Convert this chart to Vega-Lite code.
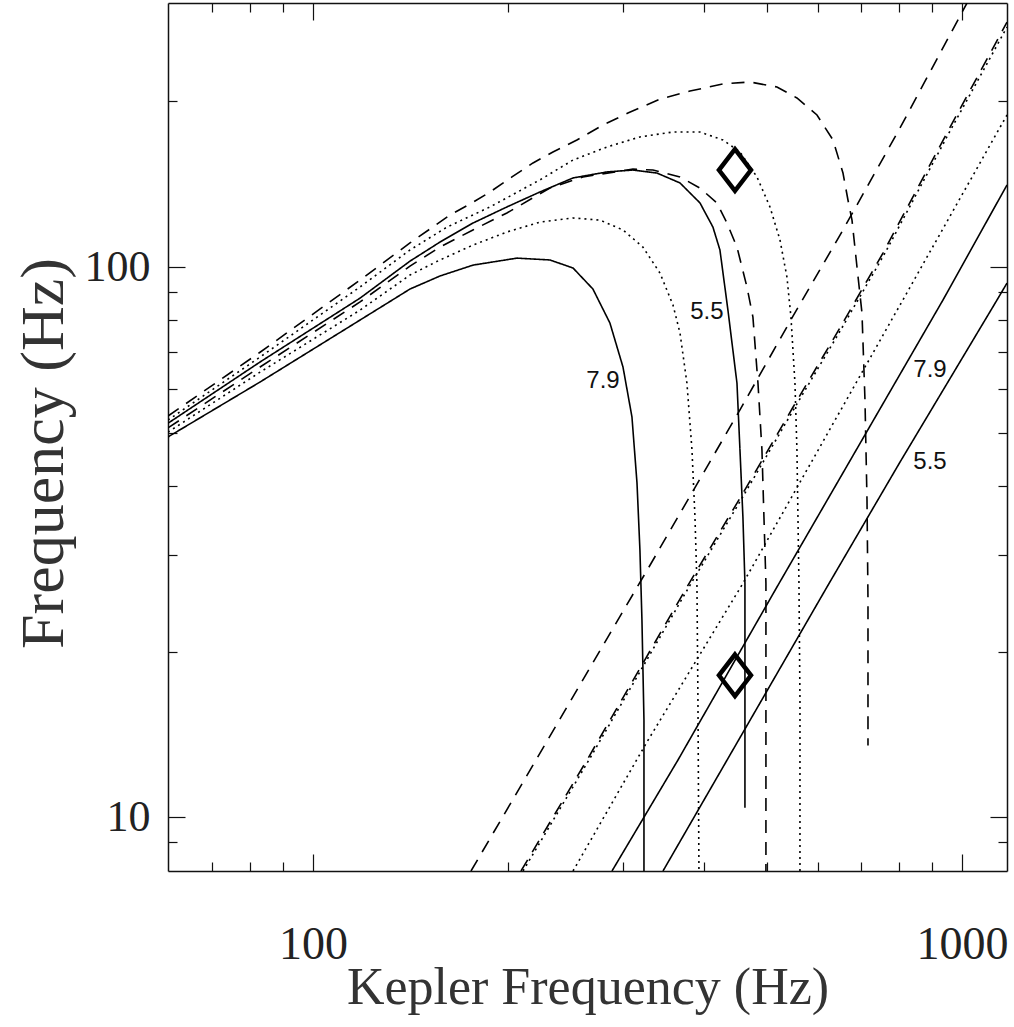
{
  "$schema": "https://vega.github.io/schema/vega-lite/v6.json",
  "width": 839,
  "height": 868,
  "autosize": {"type": "none"},
  "padding": {"left": 168, "top": 3, "right": 7, "bottom": 156},
  "background": "white",
  "config": {
    "view": {"stroke": null},
    "axis": {"grid": false, "domainColor": "#111", "domainWidth": 1.5, "tickColor": "#111", "tickWidth": 1.2, "labelColor": "#222", "titleColor": "#333", "labelFont": "Liberation Serif", "titleFont": "Liberation Serif", "titleFontWeight": "normal", "labelOverlap": false, "labelFlush": false}
  },
  "datasets": {
    "curves": [
      {"s":"S1","d":"solid","i":0,"x":59.8,"y":49.1},
      {"s":"S1","d":"solid","i":1,"x":82.9,"y":61.8},
      {"s":"S1","d":"solid","i":2,"x":118.2,"y":80.1},
      {"s":"S1","d":"solid","i":3,"x":141.1,"y":91.2},
      {"s":"S1","d":"solid","i":4,"x":156.9,"y":96.3},
      {"s":"S1","d":"solid","i":5,"x":176.4,"y":100.8},
      {"s":"S1","d":"solid","i":6,"x":206.2,"y":103.8},
      {"s":"S1","d":"solid","i":7,"x":231.8,"y":103.0},
      {"s":"S1","d":"solid","i":8,"x":251.6,"y":99.6},
      {"s":"S1","d":"solid","i":9,"x":270.0,"y":91.2},
      {"s":"S1","d":"solid","i":10,"x":286.8,"y":79.1},
      {"s":"S1","d":"solid","i":11,"x":300.4,"y":65.8},
      {"s":"S1","d":"solid","i":12,"x":310.1,"y":53.4},
      {"s":"S1","d":"solid","i":13,"x":315.7,"y":40.5},
      {"s":"S1","d":"solid","i":14,"x":319.0,"y":30.6},
      {"s":"S1","d":"solid","i":15,"x":321.3,"y":22.8},
      {"s":"S1","d":"solid","i":16,"x":323.6,"y":15.0},
      {"s":"S1","d":"solid","i":17,"x":323.6,"y":7.98},

      {"s":"S2","d":"solid","i":0,"x":59.8,"y":52.0},
      {"s":"S2","d":"solid","i":1,"x":82.9,"y":67.2},
      {"s":"S2","d":"solid","i":2,"x":118.2,"y":87.8},
      {"s":"S2","d":"solid","i":3,"x":141.1,"y":102.5},
      {"s":"S2","d":"solid","i":4,"x":156.9,"y":111.0},
      {"s":"S2","d":"solid","i":5,"x":176.4,"y":120.2},
      {"s":"S2","d":"solid","i":6,"x":199.0,"y":128.6},
      {"s":"S2","d":"solid","i":7,"x":223.7,"y":136.9},
      {"s":"S2","d":"solid","i":8,"x":251.6,"y":145.2},
      {"s":"S2","d":"solid","i":9,"x":283.8,"y":148.9},
      {"s":"S2","d":"solid","i":10,"x":311.2,"y":150.1},
      {"s":"S2","d":"solid","i":11,"x":338.9,"y":148.2},
      {"s":"S2","d":"solid","i":12,"x":367.7,"y":142.2},
      {"s":"S2","d":"solid","i":13,"x":394.7,"y":130.8},
      {"s":"S2","d":"solid","i":14,"x":413.3,"y":118.2},
      {"s":"S2","d":"solid","i":15,"x":423.7,"y":107.4},
      {"s":"S2","d":"solid","i":16,"x":435.9,"y":83.5},
      {"s":"S2","d":"solid","i":17,"x":450.1,"y":61.5},
      {"s":"S2","d":"solid","i":18,"x":454.9,"y":46.5},
      {"s":"S2","d":"solid","i":19,"x":459.7,"y":35.1},
      {"s":"S2","d":"solid","i":20,"x":463.0,"y":26.6},
      {"s":"S2","d":"solid","i":21,"x":463.0,"y":16.3},
      {"s":"S2","d":"solid","i":22,"x":463.0,"y":10.4},

      {"s":"D1","d":"dashed","i":0,"x":59.8,"y":51.0},
      {"s":"D1","d":"dashed","i":1,"x":82.9,"y":65.8},
      {"s":"D1","d":"dashed","i":2,"x":118.2,"y":86.4},
      {"s":"D1","d":"dashed","i":3,"x":141.1,"y":100.4},
      {"s":"D1","d":"dashed","i":4,"x":156.9,"y":108.7},
      {"s":"D1","d":"dashed","i":5,"x":176.4,"y":116.8},
      {"s":"D1","d":"dashed","i":6,"x":199.0,"y":125.4},
      {"s":"D1","d":"dashed","i":7,"x":231.8,"y":139.2},
      {"s":"D1","d":"dashed","i":8,"x":260.6,"y":145.8},
      {"s":"D1","d":"dashed","i":9,"x":311.2,"y":150.7},
      {"s":"D1","d":"dashed","i":10,"x":334.1,"y":150.1},
      {"s":"D1","d":"dashed","i":11,"x":367.7,"y":145.8},
      {"s":"D1","d":"dashed","i":12,"x":394.7,"y":139.2},
      {"s":"D1","d":"dashed","i":13,"x":419.2,"y":130.8},
      {"s":"D1","d":"dashed","i":14,"x":434.4,"y":120.2},
      {"s":"D1","d":"dashed","i":15,"x":450.1,"y":108.7},
      {"s":"D1","d":"dashed","i":16,"x":466.3,"y":92.0},
      {"s":"D1","d":"dashed","i":17,"x":476.3,"y":81.1},
      {"s":"D1","d":"dashed","i":18,"x":484.9,"y":61.5},
      {"s":"D1","d":"dashed","i":19,"x":491.8,"y":46.5},
      {"s":"D1","d":"dashed","i":20,"x":495.3,"y":35.1},
      {"s":"D1","d":"dashed","i":21,"x":498.8,"y":26.6},
      {"s":"D1","d":"dashed","i":22,"x":498.8,"y":16.3},
      {"s":"D1","d":"dashed","i":23,"x":498.8,"y":7.98},

      {"s":"P1","d":"dotted","i":0,"x":59.8,"y":50.1},
      {"s":"P1","d":"dotted","i":1,"x":82.9,"y":64.4},
      {"s":"P1","d":"dotted","i":2,"x":118.2,"y":83.5},
      {"s":"P1","d":"dotted","i":3,"x":141.1,"y":96.7},
      {"s":"P1","d":"dotted","i":4,"x":156.9,"y":103.0},
      {"s":"P1","d":"dotted","i":5,"x":176.4,"y":109.6},
      {"s":"P1","d":"dotted","i":6,"x":199.0,"y":115.8},
      {"s":"P1","d":"dotted","i":7,"x":223.7,"y":120.7},
      {"s":"P1","d":"dotted","i":8,"x":251.6,"y":122.8},
      {"s":"P1","d":"dotted","i":9,"x":276.8,"y":121.7},
      {"s":"P1","d":"dotted","i":10,"x":300.4,"y":116.8},
      {"s":"P1","d":"dotted","i":11,"x":322.4,"y":108.7},
      {"s":"P1","d":"dotted","i":12,"x":342.5,"y":97.5},
      {"s":"P1","d":"dotted","i":13,"x":358.7,"y":85.3},
      {"s":"P1","d":"dotted","i":14,"x":367.7,"y":75.9},
      {"s":"P1","d":"dotted","i":15,"x":376.9,"y":61.5},
      {"s":"P1","d":"dotted","i":16,"x":383.7,"y":46.5},
      {"s":"P1","d":"dotted","i":17,"x":387.8,"y":35.1},
      {"s":"P1","d":"dotted","i":18,"x":390.5,"y":26.6},
      {"s":"P1","d":"dotted","i":19,"x":391.9,"y":16.3},
      {"s":"P1","d":"dotted","i":20,"x":393.3,"y":7.98},

      {"s":"P2","d":"dotted","i":0,"x":59.8,"y":52.7},
      {"s":"P2","d":"dotted","i":1,"x":82.9,"y":68.6},
      {"s":"P2","d":"dotted","i":2,"x":118.2,"y":92.0},
      {"s":"P2","d":"dotted","i":3,"x":141.1,"y":107.4},
      {"s":"P2","d":"dotted","i":4,"x":160.9,"y":118.2},
      {"s":"P2","d":"dotted","i":5,"x":187.4,"y":128.6},
      {"s":"P2","d":"dotted","i":6,"x":223.7,"y":144.0},
      {"s":"P2","d":"dotted","i":7,"x":251.6,"y":156.5},
      {"s":"P2","d":"dotted","i":8,"x":283.8,"y":165.3},
      {"s":"P2","d":"dotted","i":9,"x":319.0,"y":172.4},
      {"s":"P2","d":"dotted","i":10,"x":358.7,"y":176.0},
      {"s":"P2","d":"dotted","i":11,"x":394.7,"y":176.0},
      {"s":"P2","d":"dotted","i":12,"x":428.3,"y":170.2},
      {"s":"P2","d":"dotted","i":13,"x":454.9,"y":161.9},
      {"s":"P2","d":"dotted","i":14,"x":483.2,"y":145.8},
      {"s":"P2","d":"dotted","i":15,"x":506.0,"y":128.6},
      {"s":"P2","d":"dotted","i":16,"x":524.3,"y":112.0},
      {"s":"P2","d":"dotted","i":17,"x":537.4,"y":95.9},
      {"s":"P2","d":"dotted","i":18,"x":545.1,"y":81.1},
      {"s":"P2","d":"dotted","i":19,"x":552.9,"y":61.5},
      {"s":"P2","d":"dotted","i":20,"x":556.8,"y":46.5},
      {"s":"P2","d":"dotted","i":21,"x":560.8,"y":26.6},
      {"s":"P2","d":"dotted","i":22,"x":562.8,"y":16.3},
      {"s":"P2","d":"dotted","i":23,"x":562.8,"y":7.98},

      {"s":"D2","d":"dashed","i":0,"x":59.8,"y":53.6},
      {"s":"D2","d":"dashed","i":1,"x":82.9,"y":70.0},
      {"s":"D2","d":"dashed","i":2,"x":118.2,"y":94.7},
      {"s":"D2","d":"dashed","i":3,"x":141.1,"y":110.6},
      {"s":"D2","d":"dashed","i":4,"x":162.6,"y":124.3},
      {"s":"D2","d":"dashed","i":5,"x":175.8,"y":130.8},
      {"s":"D2","d":"dashed","i":6,"x":187.4,"y":136.9},
      {"s":"D2","d":"dashed","i":7,"x":202.6,"y":145.8},
      {"s":"D2","d":"dashed","i":8,"x":218.3,"y":154.6},
      {"s":"D2","d":"dashed","i":9,"x":234.3,"y":161.9},
      {"s":"D2","d":"dashed","i":10,"x":255.1,"y":170.2},
      {"s":"D2","d":"dashed","i":11,"x":279.8,"y":181.2},
      {"s":"D2","d":"dashed","i":12,"x":305.7,"y":190.5},
      {"s":"D2","d":"dashed","i":13,"x":342.5,"y":202.0},
      {"s":"D2","d":"dashed","i":14,"x":381.0,"y":208.9},
      {"s":"D2","d":"dashed","i":15,"x":428.3,"y":215.2},
      {"s":"D2","d":"dashed","i":16,"x":471.3,"y":217.0},
      {"s":"D2","d":"dashed","i":17,"x":518.7,"y":212.5},
      {"s":"D2","d":"dashed","i":18,"x":556.8,"y":202.9},
      {"s":"D2","d":"dashed","i":19,"x":597.8,"y":189.0},
      {"s":"D2","d":"dashed","i":20,"x":632.8,"y":170.2},
      {"s":"D2","d":"dashed","i":21,"x":655.6,"y":148.2},
      {"s":"D2","d":"dashed","i":22,"x":667.3,"y":132.4},
      {"s":"D2","d":"dashed","i":23,"x":676.9,"y":121.7},
      {"s":"D2","d":"dashed","i":24,"x":689.0,"y":100.0},
      {"s":"D2","d":"dashed","i":25,"x":701.3,"y":82.5},
      {"s":"D2","d":"dashed","i":26,"x":708.8,"y":57.3},
      {"s":"D2","d":"dashed","i":27,"x":713.9,"y":37.7},
      {"s":"D2","d":"dashed","i":28,"x":716.4,"y":24.8},
      {"s":"D2","d":"dashed","i":29,"x":716.4,"y":13.5},

      {"s":"L1","d":"dashed","i":0,"x":175.2,"y":7.98},
      {"s":"L1","d":"dashed","i":1,"x":220.6,"y":12.7},
      {"s":"L1","d":"dashed","i":2,"x":330.6,"y":28.7},
      {"s":"L1","d":"dashed","i":3,"x":454.9,"y":55.0},
      {"s":"L1","d":"dashed","i":4,"x":547.1,"y":80.8},
      {"s":"L1","d":"dashed","i":5,"x":655.6,"y":116.8},
      {"s":"L1","d":"dashed","i":6,"x":802.6,"y":179.0},
      {"s":"L1","d":"dashed","i":7,"x":1017.9,"y":302.0},

      {"s":"L2a","d":"dashed","i":0,"x":209.2,"y":7.98},
      {"s":"L2a","d":"dashed","i":1,"x":264.4,"y":12.7},
      {"s":"L2a","d":"dashed","i":2,"x":376.9,"y":26.2},
      {"s":"L2a","d":"dashed","i":3,"x":459.7,"y":38.8},
      {"s":"L2a","d":"dashed","i":4,"x":549.0,"y":55.6},
      {"s":"L2a","d":"dashed","i":5,"x":641.8,"y":75.9},
      {"s":"L2a","d":"dashed","i":6,"x":755.5,"y":106.0},
      {"s":"L2a","d":"dashed","i":7,"x":948.1,"y":175.3},
      {"s":"L2a","d":"dashed","i":8,"x":1173.1,"y":278.7},

      {"s":"L2b","d":"dotted","i":0,"x":210.7,"y":7.98},
      {"s":"L2b","d":"dotted","i":1,"x":266.2,"y":12.7},
      {"s":"L2b","d":"dotted","i":2,"x":379.6,"y":26.2},
      {"s":"L2b","d":"dotted","i":3,"x":463.0,"y":38.8},
      {"s":"L2b","d":"dotted","i":4,"x":552.9,"y":55.6},
      {"s":"L2b","d":"dotted","i":5,"x":646.4,"y":75.9},
      {"s":"L2b","d":"dotted","i":6,"x":760.9,"y":106.0},
      {"s":"L2b","d":"dotted","i":7,"x":954.9,"y":175.3},
      {"s":"L2b","d":"dotted","i":8,"x":1173.1,"y":273.0},

      {"s":"L3","d":"dotted","i":0,"x":251.6,"y":7.98},
      {"s":"L3","d":"dotted","i":1,"x":327.1,"y":13.7},
      {"s":"L3","d":"dotted","i":2,"x":459.7,"y":26.6},
      {"s":"L3","d":"dotted","i":3,"x":802.6,"y":85.3},
      {"s":"L3","d":"dotted","i":4,"x":1173.1,"y":189.0},

      {"s":"S1d","d":"solid","i":0,"x":288.9,"y":7.98},
      {"s":"S1d","d":"solid","i":1,"x":365.1,"y":12.7},
      {"s":"S1d","d":"solid","i":2,"x":518.7,"y":26.2},
      {"s":"S1d","d":"solid","i":3,"x":934.7,"y":87.1},
      {"s":"S1d","d":"solid","i":4,"x":1173.1,"y":141.0},

      {"s":"S2d","d":"solid","i":0,"x":346.2,"y":7.98},
      {"s":"S2d","d":"solid","i":1,"x":619.4,"y":26.2},
      {"s":"S2d","d":"solid","i":2,"x":802.6,"y":44.2},
      {"s":"S2d","d":"solid","i":3,"x":1132.2,"y":87.1},
      {"s":"S2d","d":"solid","i":4,"x":1173.1,"y":93.5}
    ],
    "pts": [
      {"x": 446.9, "y": 150.1},
      {"x": 446.9, "y": 18.1}
    ],
    "labels": [
      {"x": 279.8, "y": 62.0, "t": "7.9"},
      {"x": 404.6, "y": 82.8, "t": "5.5"},
      {"x": 892.6, "y": 65.0, "t": "7.9"},
      {"x": 892.6, "y": 44.2, "t": "5.5"}
    ]
  },
  "layer": [
    {
      "data": {"name": "curves"},
      "mark": {"type": "line", "clip": true, "strokeWidth": 1.6, "color": "black"},
      "encoding": {
        "x": {
          "field": "x", "type": "quantitative",
          "scale": {"type": "log", "domain": [59.8, 1173.1], "nice": false},
          "axis": {
            "orient": "bottom",
            "title": "Kepler Frequency (Hz)",
            "values": [70, 80, 90, 100, 200, 300, 400, 500, 600, 700, 800, 900, 1000],
            "labelExpr": "datum.value == 100 ? '100' : datum.value == 1000 ? '1000' : ''",
            "tickSize": {"condition": {"test": "datum.value == 100 || datum.value == 1000", "value": -17}, "value": -9},
            "labelPadding": 104,
            "labelBaseline": "alphabetic",
            "labelFontSize": 46,
            "titleFontSize": 52,
            "titleBaseline": "alphabetic",
            "titleY": 132
          }
        },
        "y": {
          "field": "y", "type": "quantitative",
          "scale": {"type": "log", "domain": [7.98, 302], "nice": false},
          "axis": {
            "orient": "left",
            "title": "Frequency (Hz)",
            "values": [9, 10, 20, 30, 40, 50, 60, 70, 80, 90, 100, 200],
            "labelExpr": "datum.value == 10 ? '10' : datum.value == 100 ? '100' : ''",
            "tickSize": {"condition": {"test": "datum.value == 10 || datum.value == 100", "value": -17}, "value": -9},
            "labelPadding": 35,
            "labelBaseline": "middle",
            "labelFontSize": 44,
            "titleFontSize": 62,
            "titleAngle": 270,
            "titleAlign": "center",
            "titleBaseline": "alphabetic",
            "titleX": -106,
            "titleY": 450
          }
        },
        "detail": {"field": "s"},
        "order": {"field": "i", "type": "quantitative"},
        "strokeDash": {
          "field": "d", "type": "nominal",
          "scale": {"domain": ["solid", "dotted", "dashed"], "range": [[1, 0], [2, 4], [13, 9]]},
          "legend": null
        }
      }
    },
    {
      "data": {"name": "pts"},
      "mark": {"type": "point", "shape": "M0,-1.3L1,0L0,1.3L-1,0Z", "size": 1024, "filled": false, "strokeWidth": 4.5, "color": "black", "opacity": 1, "strokeJoin": "miter"},
      "encoding": {
        "x": {
          "field": "x", "type": "quantitative",
          "scale": {"type": "log", "domain": [59.8, 1173.1], "nice": false},
          "axis": {
            "orient": "top",
            "title": null,
            "labels": false,
            "values": [70, 80, 90, 100, 200, 300, 400, 500, 600, 700, 800, 900, 1000],
            "tickSize": {"condition": {"test": "datum.value == 100 || datum.value == 1000", "value": -17}, "value": -9}
          }
        },
        "y": {
          "field": "y", "type": "quantitative",
          "scale": {"type": "log", "domain": [7.98, 302], "nice": false},
          "axis": {
            "orient": "right",
            "title": null,
            "labels": false,
            "values": [9, 10, 20, 30, 40, 50, 60, 70, 80, 90, 100, 200],
            "tickSize": {"condition": {"test": "datum.value == 10 || datum.value == 100", "value": -17}, "value": -9}
          }
        }
      }
    },
    {
      "data": {"name": "labels"},
      "mark": {"type": "text", "font": "Liberation Sans", "fontSize": 24, "color": "#111", "align": "center", "baseline": "middle"},
      "encoding": {
        "x": {"field": "x", "type": "quantitative", "scale": {"type": "log", "domain": [59.8, 1173.1], "nice": false}, "axis": null},
        "y": {"field": "y", "type": "quantitative", "scale": {"type": "log", "domain": [7.98, 302], "nice": false}, "axis": null},
        "text": {"field": "t"}
      }
    }
  ],
  "resolve": {"axis": {"x": "independent", "y": "independent"}}
}
